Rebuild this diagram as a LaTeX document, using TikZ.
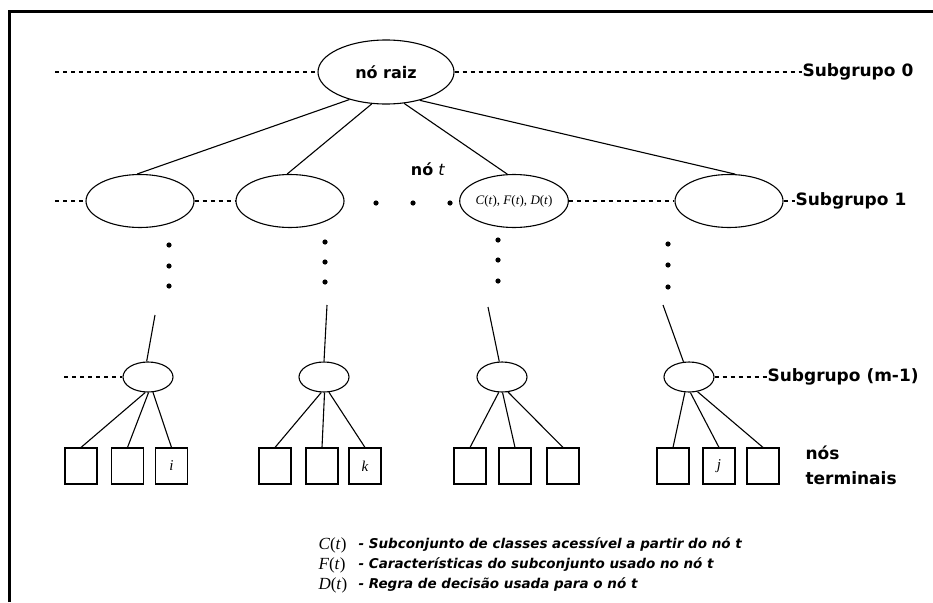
\documentclass[tikz,border=0pt]{standalone}
\usepackage{fontspec}
\newfontfamily\lblfont{DejaVu Sans}
\newfontfamily\mfont{Liberation Serif}
\newcommand{\mv}[1]{\textit{#1}(\textit{t})}
\usetikzlibrary{shapes.geometric}

\begin{document}
\begin{tikzpicture}[x=1pt,y=-1pt,line width=1.1pt,
  rootnode/.style={draw,ellipse,inner sep=0pt,minimum width=136pt,minimum height=64pt,font=\lblfont\bfseries\fontsize{16}{19}\selectfont},
  bignode/.style={draw,ellipse,inner sep=0pt,minimum width=108pt,minimum height=53pt},
  smallnode/.style={draw,ellipse,inner sep=0pt,minimum width=50pt,minimum height=30pt},
  leaf/.style={draw,rectangle,inner sep=0pt,minimum width=32pt,minimum height=36pt,font=\mfont\itshape\fontsize{15}{17}\selectfont},
  grp/.style={font=\lblfont\bfseries\fontsize{17}{25}\selectfont,anchor=west,inner sep=0pt},
  dots/.style={dash pattern=on 4pt off 4pt,line width=1.3pt},
  legend/.style={font=\lblfont\bfseries\itshape\fontsize{13.5}{15}\selectfont,anchor=west,inner sep=0pt},
  legmath/.style={font=\mfont\fontsize{17}{19}\selectfont,anchor=west,inner sep=0pt}]
\useasboundingbox (0,0) rectangle (933,602);

% Frame
\draw[line width=3pt] (9,602) -- (9,12) -- (933,12);

% Subgrupo 0
\node[rootnode] (root) at (386,72) {nó raiz};
\node[grp] (g0) at (802,72) {Subgrupo 0};
\coordinate (l0) at (55,72);
\draw[dots] (l0) -- (root);
\draw[dots] (root) -- (g0);

% Subgrupo 1
\node[bignode] (a1) at (140,201) {};
\node[bignode] (a2) at (290,201) {};
\node[bignode,font=\mfont\fontsize{13}{15}\selectfont] (a3) at (514,201) {\mv{C}, \mv{F}, \mv{D}};
\node[bignode] (a4) at (729,201) {};
\node[grp] (g1) at (795,201) {Subgrupo 1};
\node[font=\lblfont\fontsize{16}{19}\selectfont] (nt) at (428,169) {\textbf{nó} \textit{t}};
\coordinate (l1) at (55,201);
\draw[dots] (l1) -- (a1);
\draw[dots] (a1) -- (a2);
\draw[dots] (a3) -- (a4);
\draw[dots] (a4) -- (g1);
\fill (376,203) circle (2.6pt) (413,203) circle (2.6pt) (450,203) circle (2.6pt);

% Root to subgrupo 1
\draw (root.217) -- (a1.96);
\draw (root.246) -- (a2.96);
\draw (root.300) -- (a3.104);
\draw (root.320) -- (a4.77);

% Vertical dots
\fill (169,245) circle (2.6pt) (169,266) circle (2.6pt) (169,286) circle (2.6pt);
\fill (325,242) circle (2.6pt) (325,262) circle (2.6pt) (325,282) circle (2.6pt);
\fill (498,240) circle (2.6pt) (498,260) circle (2.6pt) (498,281) circle (2.6pt);
\fill (668,244) circle (2.6pt) (668,265) circle (2.6pt) (668,287) circle (2.6pt);

% Subgrupo (m-1)
\node[smallnode] (b1) at (148,377) {};
\node[smallnode] (b2) at (324,377) {};
\node[smallnode] (b3) at (502,377) {};
\node[smallnode] (b4) at (689,377) {};
\node[grp] (g2) at (767,377) {Subgrupo (m-1)};
\coordinate (l2) at (64,377);
\draw[dots] (l2) -- (b1);
\draw[dots] (b4) -- (g2);
\coordinate (c1) at (155,315);
\coordinate (c2) at (327,305);
\coordinate (c3) at (488,307);
\coordinate (c4) at (663,305);
\draw (c1) -- (b1.95);
\draw (c2) -- (b2.90);
\draw (c3) -- (b3.100);
\draw (c4) -- (b4.110);

% Terminal nodes
\node[leaf] (t11) at (81,466) {};
\node[leaf] (t12) at (127.5,466) {};
\node[leaf] (t13) at (171.5,466) {i};
\node[leaf] (t21) at (275,466) {};
\node[leaf] (t22) at (322,466) {};
\node[leaf] (t23) at (365,466) {k};
\node[leaf] (t31) at (470,466) {};
\node[leaf] (t32) at (515,466) {};
\node[leaf] (t33) at (563,466) {};
\node[leaf] (t41) at (673,466) {};
\node[leaf] (t42) at (719,466) {j};
\node[leaf] (t43) at (763,466) {};
\node[grp,align=left] (nts) at (805,465) {nós\\terminais};

\draw (b1.260) -- (t11.north);
\draw (b1.272) -- (t12.north);
\draw (b1.288) -- (t13.north);
\draw (b2.260) -- (t21.north);
\draw (b2.272) -- (t22.north);
\draw (b2.288) -- (t23.north);
\draw (b3.258) -- (t31.north);
\draw (b3.272) -- (t32.north);
\draw (b3.292) -- (t33.north);
\draw (b4.255) -- (t41.north);
\draw (b4.275) -- (t42.north);
\draw (b4.300) -- (t43.north);

% Legend
\node[legmath] (lc) at (318,545) {\mv{C}};
\node[legmath] (lf) at (318,565) {\mv{F}};
\node[legmath] (ld) at (318,585) {\mv{D}};
\node[legend] at (358,545) {- Subconjunto de classes acessível a partir do nó t};
\node[legend] at (358,565) {- Características do subconjunto usado no nó t};
\node[legend] at (358,585) {- Regra de decisão usada para o nó t};
\end{tikzpicture}
\end{document}
